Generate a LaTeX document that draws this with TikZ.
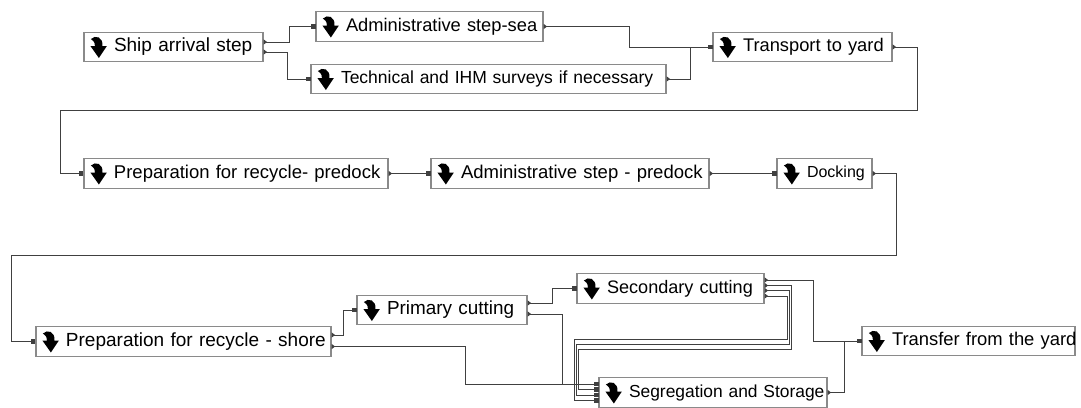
\documentclass[tikz,border=0pt]{standalone}
\usepackage{fontspec}
\setmainfont{Liberation Sans}
\usetikzlibrary{arrows.meta}

\definecolor{boxgray}{HTML}{8A8A8A}
\definecolor{linegray}{HTML}{404040}

% font size in big points for each step label
\newcommand\boxfont[1]{\fontsize{#1bp}{#1bp}\selectfont}
% label with room on the left for the step icon
\newcommand\steptext[1]{\mbox{\hspace*{30bp}#1}}

\tikzset{
  stepbox/.style={draw=boxgray, line width=1.2bp, fill=white, align=left,
    inner xsep=0pt, inner ysep=0pt, minimum height=29.5bp, text=black},
  link/.style={draw=linegray, line width=0.9bp,
    {Triangle[reversed,length=3.5bp,width=5bp]}-{Square[length=4.5bp,width=4.5bp]}},
  pics/stepicon/.style={code={
    \fill[black] (0.5,-8) .. controls (5,-12.5) and (13,-10) .. (12,-1)
      -- (16.5,-1) -- (8.5,11) -- (0,-1) -- (4.5,-1)
      .. controls (4.5,-5) and (2.5,-7) .. (0.5,-8) -- cycle;
  }}
}

\begin{document}
\begin{tikzpicture}[x=1bp,y=-1bp]
\useasboundingbox[fill=white] (0,0) rectangle (1081,407);

% first row
\node[stepbox, text width=179bp, font=\boxfont{19}]   (ship)      at (173.5,47)   {\steptext{Ship arrival step}};
\node[stepbox, text width=227bp, font=\boxfont{18.3}] (adsea)     at (429.5,26.5) {\steptext{Administrative step-sea}};
\node[stepbox, text width=355bp, font=\boxfont{17.5}] (tech)      at (488.5,79)   {\steptext{Technical and IHM surveys if necessary}};
\node[stepbox, text width=179bp, font=\boxfont{18.3}] (transport) at (802.5,47)   {\steptext{Transport to yard}};

% second row
\node[stepbox, text width=304bp, font=\boxfont{18.5}] (prepdock)  at (236,173.5)  {\steptext{Preparation for recycle- predock}};
\node[stepbox, text width=278bp, font=\boxfont{18.5}] (adpre)     at (570,173.5)  {\steptext{Administrative step - predock}};
\node[stepbox, text width=95bp,  font=\boxfont{16}]   (dock)      at (824.5,173.5){\steptext{Docking}};

% third row
\node[stepbox, text width=295bp, font=\boxfont{19}]   (prepshore) at (183.5,341.5){\steptext{Preparation for recycle - shore}};
\node[stepbox, text width=170bp, font=\boxfont{18.9}] (primary)   at (442,310)    {\steptext{Primary cutting}};
\node[stepbox, text width=187bp, font=\boxfont{18.1}] (secondary) at (670.5,288.5){\steptext{Secondary cutting}};
\node[stepbox, text width=228bp, font=\boxfont{17.4}] (seg)       at (713,392.5)  {\steptext{Segregation and Storage}};
\node[stepbox, text width=213bp, font=\boxfont{18.4}] (transfer)  at (968.5,341)  {\steptext{Transfer from the yard}};

\foreach \n in {ship,adsea,tech,transport,prepdock,adpre,dock,prepshore,primary,secondary,seg,transfer}
  \pic at ([xshift=7bp]\n.west) {stepicon};

% bend points of the long runs
\coordinate (wrapA) at (60,110);
\coordinate (wrapB) at (11,255);
\coordinate (busD)  at (574,339);
\coordinate (busC)  at (576,344);
\coordinate (busB)  at (578,349);

% connectors
\draw[link] ([yshift=5bp]ship.east)  -- ++(26,0) |- (adsea.west);
\draw[link] ([yshift=-5bp]ship.east) -- ++(24,0) |- (tech.west);
\draw[link] (adsea.east) -- ++(86,0) |- (transport.west);
\draw[link] (tech.east)  -- ++(24,0) |- (transport.west);
\draw[link] (transport.east) -- ++(25,0) |- (wrapA) |- (prepdock.west);
\draw[link] (prepdock.east) -- (adpre.west);
\draw[link] (adpre.east) -- (dock.west);
\draw[link] (dock.east) -- ++(24,0) |- (wrapB) |- (prepshore.west);
\draw[link] ([yshift=6.5bp]prepshore.east) -- ++(12,0) |- (primary.west);
\draw[link] ([yshift=-5bp]prepshore.east) -- ++(134,0) |- ([yshift=8.5bp]seg.west);
\draw[link] ([yshift=7bp]primary.east)  -- ++(25,0) |- (secondary.west);
\draw[link] ([yshift=-4bp]primary.east) -- ++(35,0) |- ([yshift=8.5bp]seg.west);
\draw[link] ([yshift=8.5bp]secondary.east) -- ++(49,0) |- (transfer.west);
\draw[link] ([yshift=3bp]secondary.east)   -- ++(27,0) |- (busB) |- ([yshift=3bp]seg.west);
\draw[link] ([yshift=-2bp]secondary.east)  -- ++(25,0) |- (busC) |- ([yshift=-2.5bp]seg.west);
\draw[link] ([yshift=-7.5bp]secondary.east) -- ++(23,0) |- (busD) |- ([yshift=-8bp]seg.west);
\draw[link] (seg.east) -- ++(17,0) |- (transfer.west);
\end{tikzpicture}
\end{document}
